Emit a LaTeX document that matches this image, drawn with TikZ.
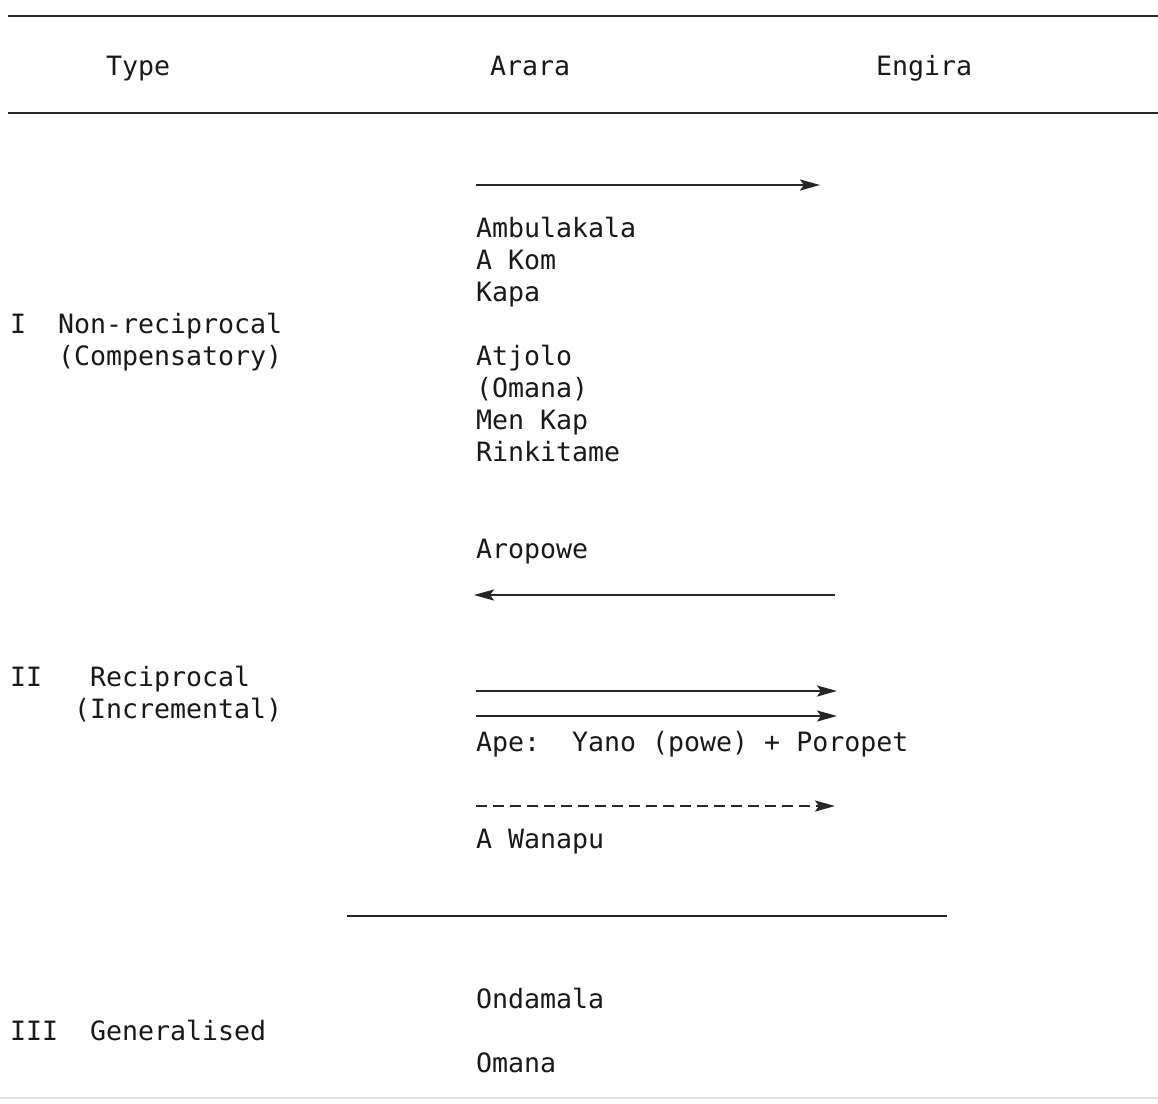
\documentclass[tikz,border=0pt]{standalone}
\usepackage{fontspec}
\setmonofont{DejaVu Sans Mono}
\usetikzlibrary{arrows.meta}
\begin{document}
\begin{tikzpicture}[x=1pt,y=-1pt,
  txt/.style={anchor=base west,inner sep=0pt,outer sep=0pt,
    font=\ttfamily\fontsize{26.6}{32}\selectfont,text=black!90},
  rule/.style={line width=2.6pt,black!85},
  flow/.style={line width=2.4pt,black!85,
    -{Stealth[length=20pt,width=11pt,inset=4pt]}},
  dashflow/.style={flow,dash pattern=on 11pt off 6pt}]
\useasboundingbox (0,0) rectangle (1158,1103);
\fill[white] (0,0) rectangle (1158,1103);

% table rules
\coordinate (t1) at (8,16);   \coordinate (t2) at (1158,16);
\coordinate (h1) at (8,113);  \coordinate (h2) at (1158,113);
\coordinate (m1) at (347,916); \coordinate (m2) at (947,916);
\coordinate (b1) at (0,1098); \coordinate (b2) at (1158,1098);
\draw[rule] (t1) -- (t2);
\draw[rule] (h1) -- (h2);
\draw[rule] (m1) -- (m2);
\draw[line width=1.5pt,black!12] (b1) -- (b2);

% header
\node[txt] (type) at (106,75) {Type};
\node[txt] (arara) at (490,75) {Arara};
\node[txt] (engira) at (876,75) {Engira};

% type I
\node[txt] (one) at (10,333) {I};
\node[txt] (nonrec) at (58,333) {Non-reciprocal};
\node[txt] (comp) at (58,365) {(Compensatory)};

\coordinate (a1s) at (476,185); \coordinate (a1e) at (820,185);
\draw[flow] (a1s) -- (a1e);
\node[txt] (amb) at (476,237) {Ambulakala};
\node[txt] (akom) at (476,269) {A Kom};
\node[txt] (kapa) at (476,301) {Kapa};
\node[txt] (atj) at (476,365) {Atjolo};
\node[txt] (oman1) at (476,397) {(Omana)};
\node[txt] (menk) at (476,429) {Men Kap};
\node[txt] (rink) at (476,461) {Rinkitame};

\node[txt] (arop) at (476,558) {Aropowe};
\coordinate (a2s) at (835,595); \coordinate (a2e) at (474,595);
\draw[flow] (a2s) -- (a2e);

% type II
\node[txt] (two) at (10,686) {II};
\node[txt] (recip) at (90,686) {Reciprocal};
\node[txt] (incr) at (74,718) {(Incremental)};

\coordinate (a3s) at (476,691); \coordinate (a3e) at (837,691);
\coordinate (a4s) at (476,716); \coordinate (a4e) at (837,716);
\draw[flow] (a3s) -- (a3e);
\draw[flow] (a4s) -- (a4e);
\node[txt] (ape) at (476,751) {Ape:\ \ Yano (powe) + Poropet};

\coordinate (a5s) at (476,806); \coordinate (a5e) at (835,806);
\draw[dashflow] (a5s) -- (a5e);
\node[txt] (wan) at (476,848) {A Wanapu};

% type III
\node[txt] (three) at (10,1040) {III};
\node[txt] (gen) at (90,1040) {Generalised};
\node[txt] (onda) at (476,1008) {Ondamala};
\node[txt] (oman2) at (476,1072) {Omana};
\end{tikzpicture}
\end{document}
